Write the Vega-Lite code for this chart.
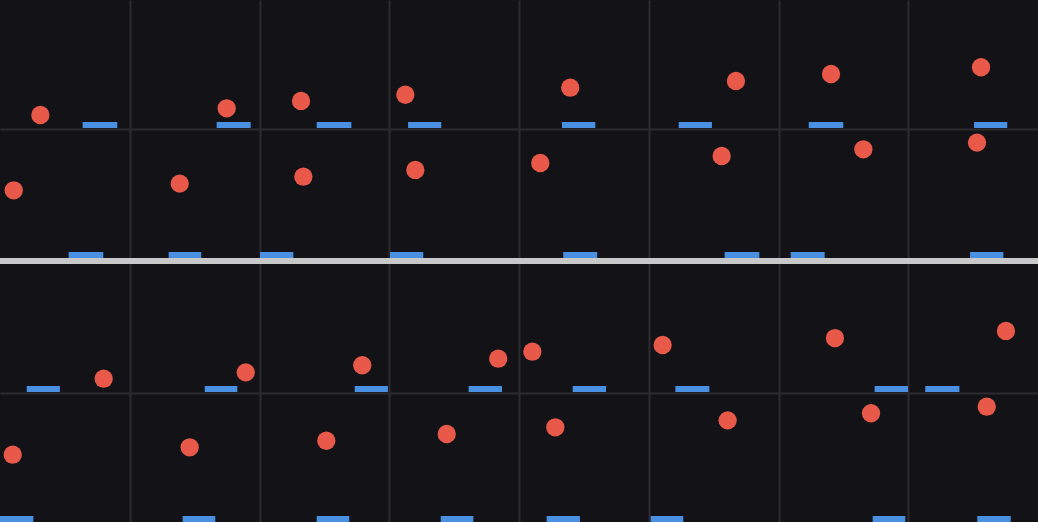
{
  "$schema": "https://vega.github.io/schema/vega-lite/v6.json",
  "width": 1038,
  "height": 522,
  "autosize": {"type": "none"},
  "padding": 0,
  "background": "#131317",
  "config": {
    "view": {"stroke": null},
    "axis": {
      "labels": false,
      "ticks": false,
      "domain": false,
      "title": null,
      "grid": true,
      "gridColor": "#2c2c30",
      "gridWidth": 2,
      "gridOpacity": 1
    }
  },
  "datasets": {
    "dots": [
      {"x": 0.311, "y": 3.155}, {"x": 1.747, "y": 3.207}, {"x": 2.320, "y": 3.264}, {"x": 3.124, "y": 3.312},
      {"x": 4.395, "y": 3.367}, {"x": 5.672, "y": 3.419}, {"x": 6.405, "y": 3.473}, {"x": 7.561, "y": 3.525},
      {"x": 0.106, "y": 2.571}, {"x": 1.385, "y": 2.623}, {"x": 2.338, "y": 2.677}, {"x": 3.201, "y": 2.729},
      {"x": 4.164, "y": 2.783}, {"x": 5.562, "y": 2.837}, {"x": 6.654, "y": 2.889}, {"x": 7.530, "y": 2.941},
      {"x": 0.799, "y": 1.111}, {"x": 1.894, "y": 1.160}, {"x": 2.792, "y": 1.215}, {"x": 3.840, "y": 1.266},
      {"x": 4.103, "y": 1.320}, {"x": 5.107, "y": 1.372}, {"x": 6.435, "y": 1.426}, {"x": 7.753, "y": 1.481},
      {"x": 0.098, "y": 0.522}, {"x": 1.462, "y": 0.579}, {"x": 2.515, "y": 0.630}, {"x": 3.443, "y": 0.682},
      {"x": 4.280, "y": 0.734}, {"x": 5.608, "y": 0.788}, {"x": 6.713, "y": 0.843}, {"x": 7.605, "y": 0.894}
    ],
    "bars": [
      {"lo": 0.637, "hi": 0.904, "b": 3.054, "t": 3.101}, {"lo": 1.670, "hi": 1.932, "b": 3.054, "t": 3.101},
      {"lo": 2.441, "hi": 2.708, "b": 3.054, "t": 3.101}, {"lo": 3.145, "hi": 3.401, "b": 3.054, "t": 3.101},
      {"lo": 4.331, "hi": 4.588, "b": 3.054, "t": 3.101}, {"lo": 5.231, "hi": 5.487, "b": 3.054, "t": 3.101},
      {"lo": 6.233, "hi": 6.499, "b": 3.054, "t": 3.101}, {"lo": 7.507, "hi": 7.763, "b": 3.054, "t": 3.101},
      {"lo": 0.529, "hi": 0.796, "b": 2.0465, "t": 2.093}, {"lo": 1.300, "hi": 1.551, "b": 2.0465, "t": 2.093},
      {"lo": 2.004, "hi": 2.261, "b": 2.0465, "t": 2.093}, {"lo": 3.006, "hi": 3.262, "b": 2.0465, "t": 2.093},
      {"lo": 4.341, "hi": 4.603, "b": 2.0465, "t": 2.093}, {"lo": 5.585, "hi": 5.852, "b": 2.0465, "t": 2.093},
      {"lo": 6.094, "hi": 6.356, "b": 2.0465, "t": 2.093}, {"lo": 7.476, "hi": 7.733, "b": 2.0465, "t": 2.093},
      {"lo": 0.206, "hi": 0.462, "b": 1.008, "t": 1.054}, {"lo": 1.578, "hi": 1.829, "b": 1.008, "t": 1.054},
      {"lo": 2.734, "hi": 2.990, "b": 1.008, "t": 1.054}, {"lo": 3.612, "hi": 3.869, "b": 1.008, "t": 1.054},
      {"lo": 4.414, "hi": 4.671, "b": 1.008, "t": 1.054}, {"lo": 5.205, "hi": 5.467, "b": 1.008, "t": 1.054},
      {"lo": 6.741, "hi": 6.998, "b": 1.008, "t": 1.054}, {"lo": 7.131, "hi": 7.394, "b": 1.008, "t": 1.054},
      {"lo": 0.000, "hi": 0.257, "b": 0, "t": 0.0465}, {"lo": 1.408, "hi": 1.659, "b": 0, "t": 0.0465},
      {"lo": 2.441, "hi": 2.692, "b": 0, "t": 0.0465}, {"lo": 3.397, "hi": 3.648, "b": 0, "t": 0.0465},
      {"lo": 4.213, "hi": 4.470, "b": 0, "t": 0.0465}, {"lo": 5.015, "hi": 5.266, "b": 0, "t": 0.0465},
      {"lo": 6.726, "hi": 6.977, "b": 0, "t": 0.0465}, {"lo": 7.532, "hi": 7.790, "b": 0, "t": 0.0465}
    ]
  },
  "layer": [
    {
      "data": {"name": "bars"},
      "mark": {"type": "rect", "color": "#4a90e2"},
      "encoding": {
        "x": {
          "field": "lo",
          "type": "quantitative",
          "scale": {"domain": [0, 8], "nice": false, "zero": false},
          "axis": {"values": [1, 2, 3, 4, 5, 6, 7]}
        },
        "x2": {"field": "hi"},
        "y": {
          "field": "b",
          "type": "quantitative",
          "scale": {"domain": [0, 4.0465], "nice": false, "zero": false},
          "axis": {"values": [1, 3.0465]}
        },
        "y2": {"field": "t"}
      }
    },
    {
      "data": {"values": [{"s": 2.0233}]},
      "mark": {"type": "rule", "color": "#c8c8c8", "strokeWidth": 6},
      "encoding": {"y": {"field": "s", "type": "quantitative"}}
    },
    {
      "data": {"name": "dots"},
      "mark": {"type": "circle", "color": "#e9594a", "opacity": 1, "size": 335},
      "encoding": {
        "x": {"field": "x", "type": "quantitative"},
        "y": {"field": "y", "type": "quantitative"}
      }
    }
  ]
}
